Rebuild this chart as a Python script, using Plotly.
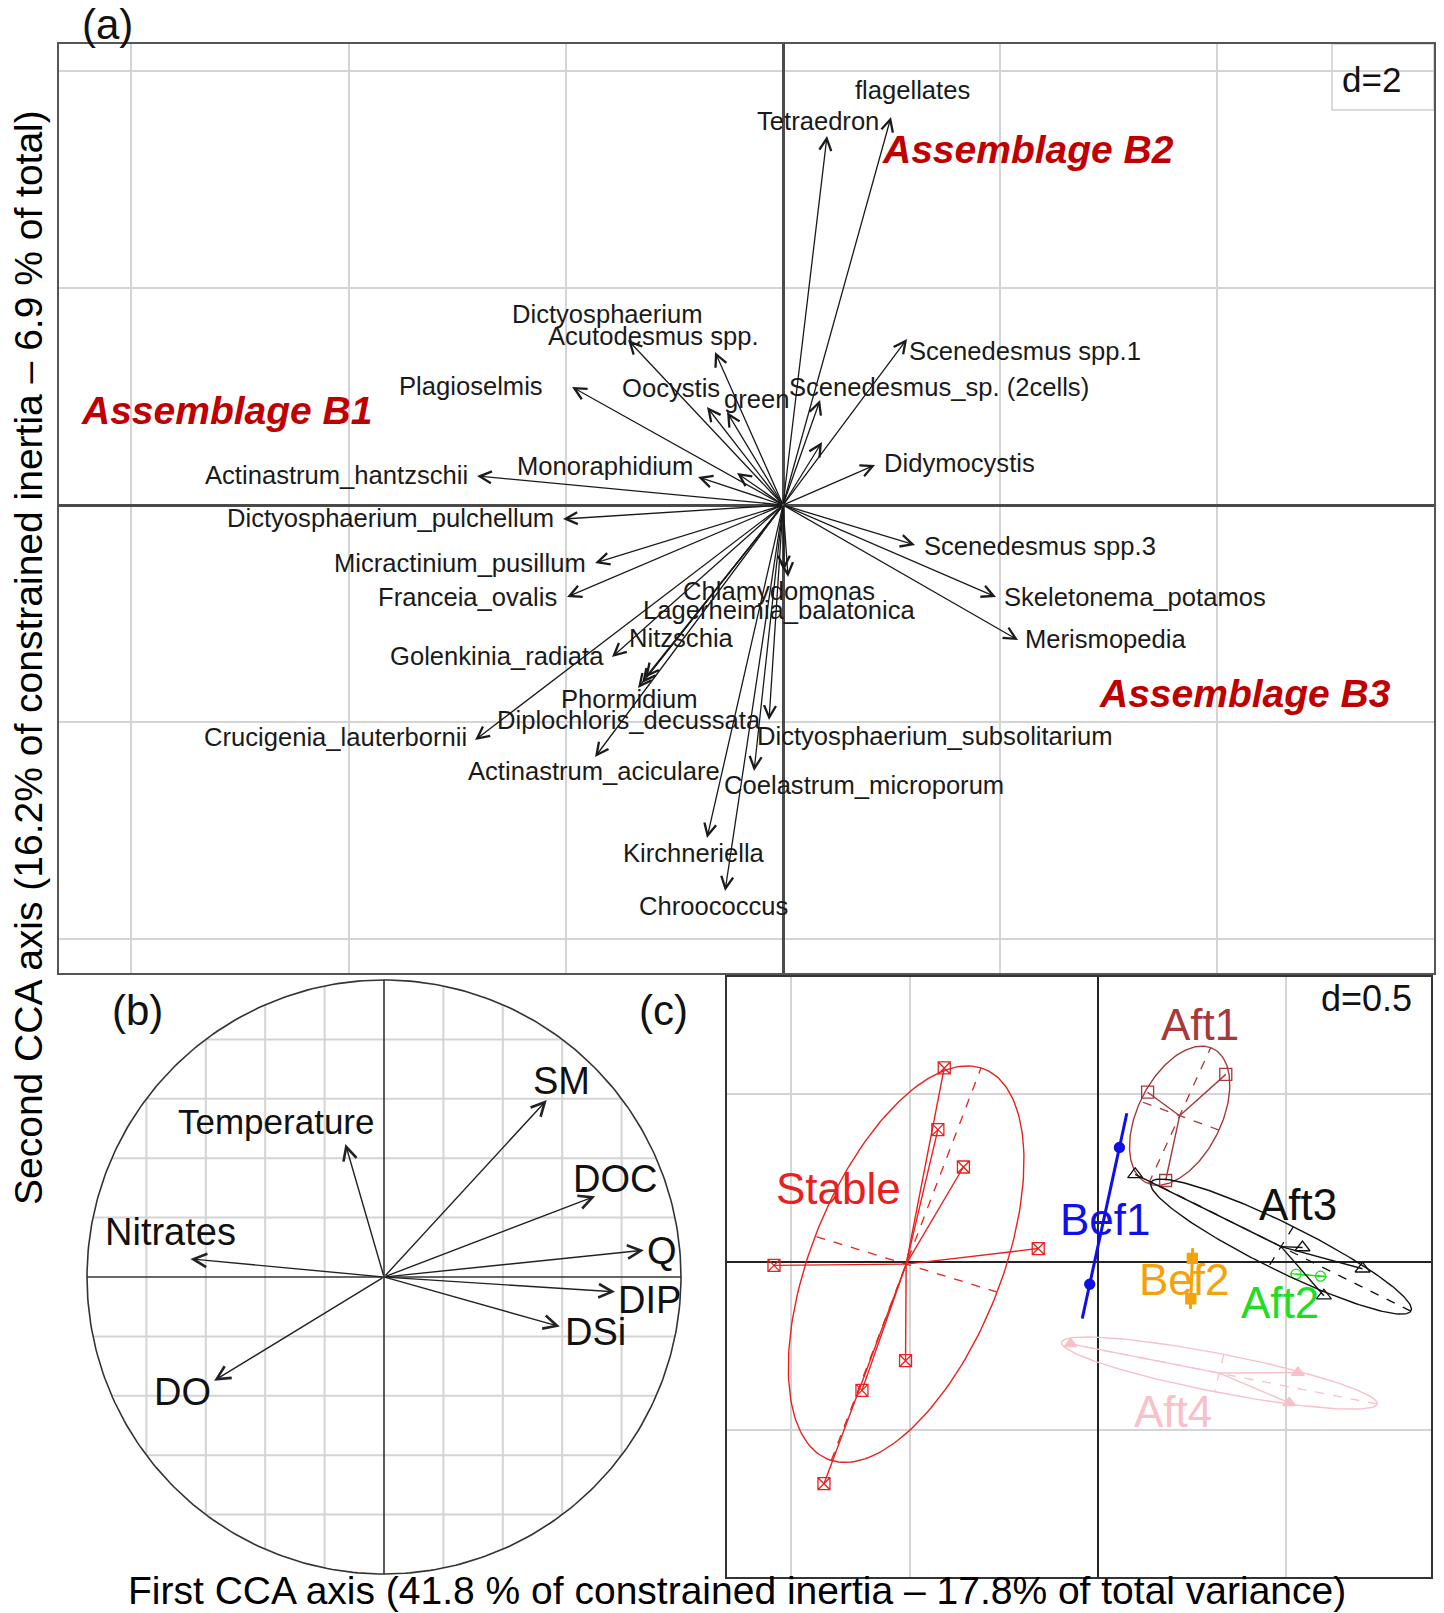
import numpy as np
import plotly.graph_objects as go

W, H = 1444, 1613
FONT = "Liberation Sans, Arial, Helvetica, sans-serif"

# ---------------- Panel (a): species scores (CCA) ----------------
species = ["flagellates", "Tetraedron", "Dictyosphaerium", "Acutodesmus spp.", "Plagioselmis",
           "Oocystis", "green", "Scenedesmus spp.1", "Scenedesmus_sp. (2cells)", "Didymocystis",
           "Monoraphidium", "Actinastrum_hantzschii", "Dictyosphaerium_pulchellum", "Scenedesmus spp.3",
           "Micractinium_pusillum", "Skeletonema_potamos", "Franceia_ovalis", "Chlamydomonas",
           "Lagerheimia_balatonica", "Merismopedia", "Nitzschia", "Golenkinia_radiata", "Phormidium",
           "Diplochloris_decussata", "Crucigenia_lauterbornii", "Dictyosphaerium_subsolitarium",
           "Actinastrum_aciculare", "Coelastrum_microporum", "Kirchneriella", "Chroococcus"]
sp_x = [0.994, 0.405, -1.427, -0.626, -1.943, -0.700, -0.516, 1.142, 0.341, 0.847,
        -0.783, -2.818, -2.026, 1.215, -1.731, 1.961, -1.989, 0.046, 0.010, 2.164,
        -1.298, -1.575, -1.270, -1.335, -2.836, -0.129, -1.731, -0.267, -0.700, -0.534]
sp_y = [3.573, 3.398, 1.519, 1.409, 1.087, 0.902, 0.856, 1.529, 0.967, 0.368,
        0.258, 0.267, -0.129, -0.368, -0.534, -0.847, -0.847, -0.663, -0.600, -1.243,
        -1.639, -1.400, -1.590, -1.685, -2.164, -1.980, -2.320, -2.449, -3.066, -3.554]
lab_x = [1.188, 0.322, -1.621, -1.197, -2.873, -1.031, -0.249, 2.228, 1.436, 1.621,
         -1.639, -4.116, -3.619, 2.366, -2.974, 3.241, -2.901, -0.037, -0.037, 2.974,
         -0.939, -2.634, -1.418, -1.418, -4.125, 1.400, -1.740, 0.746, -0.820, -0.645]
lab_y = [3.817, 3.536, 1.759, 1.556, 1.096, 1.077, 0.976, 1.418, 1.087, 0.387,
         0.359, 0.276, -0.120, -0.378, -0.534, -0.847, -0.847, -0.792, -0.967, -1.234,
         -1.225, -1.390, -1.786, -1.980, -2.136, -2.127, -2.449, -2.578, -3.204, -3.692]
# arrows whose labels are hidden under other labels
extra_x = [0.359, -0.424]
extra_y = [0.580, 0.295]

assemblages = ["Assemblage B1", "Assemblage B2", "Assemblage B3"]
asm_x = [-5.129, 2.256, 4.254]
asm_y = [0.866, 3.278, -1.731]

# ---------------- Panel (b): environmental variables (correlation circle) ----------------
env = ["SM", "Temperature", "DOC", "Q", "Nitrates", "DIP", "DSi", "DO"]
env_x = [0.548, -0.130, 0.711, 0.875, -0.652, 0.778, 0.592, -0.572]
env_y = [0.596, 0.448, 0.272, 0.090, 0.061, -0.050, -0.167, -0.349]
env_lx = [0.598, -0.362, 0.778, 0.935, -0.718, 0.895, 0.711, -0.678]
env_ly = [0.661, 0.523, 0.329, 0.088, 0.151, -0.079, -0.186, -0.386]
circle_grid = [-0.8, -0.6, -0.4, -0.2, 0.2, 0.4, 0.6, 0.8]

# ---------------- Panel (c): sampling dates by class ----------------
groups = ["Stable", "Bef1", "Bef2", "Aft1", "Aft2", "Aft3", "Aft4"]
grp_x = {
    "Stable": [-0.409, -0.426, -0.358, -0.159, -0.862, -0.512, -0.628, -0.729],
    "Bef1": [0.057, -0.022],
    "Bef2": [0.251, 0.247],
    "Aft1": [0.132, 0.340, 0.180],
    "Aft2": [0.527, 0.592],
    "Aft3": [0.099, 0.544, 0.704, 0.601],
    "Aft4": [-0.073, 0.532, 0.509],
}
grp_y = {
    "Stable": [0.576, 0.393, 0.282, 0.040, -0.010, -0.293, -0.381, -0.658],
    "Bef1": [0.340, -0.066],
    "Bef2": [0.011, -0.109],
    "Aft1": [0.504, 0.557, 0.242],
    "Aft2": [-0.036, -0.042],
    "Aft3": [0.260, 0.043, -0.020, -0.100],
    "Aft4": [-0.243, -0.328, -0.418],
}
grp_lab_x = [-0.691, 0.021, 0.230, 0.271, 0.485, 0.532, 0.200]
grp_lab_y = [0.218, 0.127, -0.052, 0.705, -0.121, 0.170, -0.445]

grp_color = {"Stable": "#e8211f", "Bef1": "#1010e8", "Bef2": "#f5a20a", "Aft1": "#a8383a",
             "Aft2": "#20dd20", "Aft3": "#111111", "Aft4": "#f8c0c8"}
grp_symbol = {"Stable": "square-x-open", "Bef1": "circle", "Bef2": "square", "Aft1": "square-open",
              "Aft2": "circle-open", "Aft3": "triangle-up-open", "Aft4": "triangle-up"}
grp_msize = {"Stable": 12, "Bef1": 10, "Bef2": 10, "Aft1": 12, "Aft2": 10, "Aft3": 13, "Aft4": 11}


# ---------------- layout helpers (pixel boxes -> paper domains) ----------------
def dom_x(l, r):
    return [l / W, r / W]


def dom_y(t, b):
    return [1 - b / H, 1 - t / H]


def paper_text(px, py, text, size, color="#111", **kw):
    return dict(x=px / W, y=1 - py / H, xref="paper", yref="paper", text=text, showarrow=False,
                xanchor="center", yanchor="middle", font=dict(family=FONT, size=size, color=color), **kw)


fig = go.Figure()
annotations = []
GRID = "#d4d4d4"
AXC = "#4a4a4a"

# ---- Panel (a) arrows and labels
for x, y in zip(sp_x + extra_x, sp_y + extra_y):
    annotations.append(dict(x=x, y=y, ax=0, ay=0, xref="x", yref="y", axref="x", ayref="y",
                            text="", showarrow=True, arrowhead=5, arrowsize=1.8, arrowwidth=1.3,
                            arrowcolor="#1a1a1a", standoff=0, startstandoff=0))
for name, x, y in zip(species, lab_x, lab_y):
    annotations.append(dict(x=x, y=y, xref="x", yref="y", text=name, showarrow=False,
                            xanchor="center", yanchor="middle",
                            font=dict(family=FONT, size=25.6, color="#1a1a1a")))
for name, x, y in zip(assemblages, asm_x, asm_y):
    annotations.append(dict(x=x, y=y, xref="x", yref="y", text="<b><i>%s</i></b>" % name,
                            showarrow=False, xanchor="center", yanchor="middle",
                            font=dict(family=FONT, size=39, color="#c00000")))

# ---- Panel (b)
for v in circle_grid:
    h = np.sqrt(1 - v * v)
    fig.add_trace(go.Scatter(x=[v, v], y=[-h, h], mode="lines", line=dict(color=GRID, width=2),
                             xaxis="x2", yaxis="y2", hoverinfo="skip", showlegend=False))
    fig.add_trace(go.Scatter(x=[-h, h], y=[v, v], mode="lines", line=dict(color=GRID, width=2),
                             xaxis="x2", yaxis="y2", hoverinfo="skip", showlegend=False))
fig.add_trace(go.Scatter(x=[-1, 1, None, 0, 0], y=[0, 0, None, -1, 1], mode="lines",
                         line=dict(color="#333333", width=1.6), xaxis="x2", yaxis="y2",
                         hoverinfo="skip", showlegend=False))
t = np.linspace(0, 2 * np.pi, 361)
fig.add_trace(go.Scatter(x=np.cos(t), y=np.sin(t), mode="lines", line=dict(color="#333333", width=1.6),
                         xaxis="x2", yaxis="y2", hoverinfo="skip", showlegend=False))
for x, y in zip(env_x, env_y):
    annotations.append(dict(x=x, y=y, ax=0, ay=0, xref="x2", yref="y2", axref="x2", ayref="y2",
                            text="", showarrow=True, arrowhead=5, arrowsize=1.9, arrowwidth=1.4,
                            arrowcolor="#222222", standoff=0, startstandoff=0))
for name, x, y in zip(env, env_lx, env_ly):
    annotations.append(dict(x=x, y=y, xref="x2", yref="y2", text=name, showarrow=False,
                            xanchor="center", yanchor="middle",
                            font=dict(family=FONT, size=35 if name == "Temperature" else 38,
                                      color="#111111")))


# ---- Panel (c): class ellipses, stars and points
def class_geometry(xs, ys, k=1.5, n=200):
    x = np.asarray(xs, float)
    y = np.asarray(ys, float)
    mx, my = x.mean(), y.mean()
    C = np.cov(np.vstack([x, y]), bias=True)
    vals, vecs = np.linalg.eigh(C)
    vals = np.clip(vals, 0, None)
    a = k * np.sqrt(vals[1]) * vecs[:, 1]
    b = k * np.sqrt(vals[0]) * vecs[:, 0]
    tt = np.linspace(0, 2 * np.pi, n)
    ex = mx + np.cos(tt) * a[0] + np.sin(tt) * b[0]
    ey = my + np.cos(tt) * a[1] + np.sin(tt) * b[1]
    return mx, my, a, b, ex, ey


for g in groups:
    col = grp_color[g]
    mx, my, a, b, ex, ey = class_geometry(grp_x[g], grp_y[g])
    fig.add_trace(go.Scatter(x=[mx - a[0], mx + a[0], None, mx - b[0], mx + b[0]],
                             y=[my - a[1], my + a[1], None, my - b[1], my + b[1]],
                             mode="lines", line=dict(color=col, width=1.3, dash="dash"),
                             xaxis="x3", yaxis="y3", hoverinfo="skip", showlegend=False))
    wid = 3 if g in ("Bef1", "Bef2") else 1.4
    fig.add_trace(go.Scatter(x=ex, y=ey, mode="lines", line=dict(color=col, width=wid),
                             xaxis="x3", yaxis="y3", hoverinfo="skip", showlegend=False))
    sx, sy = [], []
    for px, py in zip(grp_x[g], grp_y[g]):
        sx += [mx, px, None]
        sy += [my, py, None]
    fig.add_trace(go.Scatter(x=sx, y=sy, mode="lines", line=dict(color=col, width=1.4),
                             xaxis="x3", yaxis="y3", hoverinfo="skip", showlegend=False))
    fig.add_trace(go.Scatter(x=grp_x[g], y=grp_y[g], mode="markers",
                             marker=dict(symbol=grp_symbol[g], size=grp_msize[g], color=col,
                                         line=dict(color=col, width=1.3)),
                             xaxis="x3", yaxis="y3", hoverinfo="skip", showlegend=False))
for g, x, y in zip(groups, grp_lab_x, grp_lab_y):
    annotations.append(dict(x=x, y=y, xref="x3", yref="y3", text=g, showarrow=False,
                            xanchor="center", yanchor="middle",
                            font=dict(family=FONT, size=44, color=grp_color[g])))

# ---- panel tags, scale labels, axis titles
annotations += [
    paper_text(107, 25, "(a)", 42),
    paper_text(137, 1010, "(b)", 42),
    paper_text(663, 1010, "(c)", 42),
    paper_text(1371, 80, "d=2", 35),
    paper_text(1366, 998, "d=0.5", 36),
    paper_text(737, 1590, "First CCA axis (41.8 % of constrained inertia \u2013 17.8% of total variance)", 39,
               color="#000"),
    paper_text(28, 658, "Second CCA axis (16.2% of constrained inertia \u2013 6.9 % of total)", 39,
               color="#000", textangle=-90),
]

shapes = [
    dict(type="rect", xref="paper", yref="paper", x0=1332 / W, x1=1434 / W, y0=1 - 110 / H, y1=1 - 44 / H,
         fillcolor="white", line=dict(color="#cfcfcf", width=1.5), layer="between"),
]

axis_common = dict(showticklabels=False, ticks="", fixedrange=True)
fig.update_layout(
    width=W, height=H, margin=dict(l=0, r=0, t=0, b=0),
    paper_bgcolor="white", plot_bgcolor="rgba(0,0,0,0)", showlegend=False,
    xaxis=dict(domain=dom_x(59, 1434), range=[-6.667, 5.994], tick0=0, dtick=2,
               showgrid=True, gridcolor=GRID, gridwidth=2, zeroline=True, zerolinecolor=AXC,
               zerolinewidth=2.5, showline=True, mirror=True, linecolor="#555", linewidth=2,
               **axis_common),
    yaxis=dict(domain=dom_y(44, 973), range=[-4.309, 4.245], tick0=0, dtick=2,
               showgrid=True, gridcolor=GRID, gridwidth=2, zeroline=True, zerolinecolor=AXC,
               zerolinewidth=2.5, showline=True, mirror=True, linecolor="#555", linewidth=2,
               **axis_common),
    xaxis2=dict(domain=dom_x(74, 694), range=[-1.0438, 1.0438], showgrid=False, zeroline=False,
                showline=False, anchor="y2", **axis_common),
    yaxis2=dict(domain=dom_y(967, 1587), range=[-1.0438, 1.0438], showgrid=False, zeroline=False,
                showline=False, anchor="x2", **axis_common),
    xaxis3=dict(domain=dom_x(727, 1431), range=[-0.987, 0.886], tickvals=[-0.816, -0.5, 0.5],
                showgrid=True, gridcolor=GRID, gridwidth=1.5, zeroline=True, zerolinecolor="#222",
                zerolinewidth=1.6, showline=True, mirror=True, linecolor="#333", linewidth=2,
                anchor="y3", **axis_common),
    yaxis3=dict(domain=dom_y(977, 1577), range=[-0.935, 0.846], tickvals=[-0.5, 0.5],
                showgrid=True, gridcolor=GRID, gridwidth=1.5, zeroline=True, zerolinecolor="#222",
                zerolinewidth=1.6, showline=True, mirror=True, linecolor="#333", linewidth=2,
                anchor="x3", **axis_common),
    annotations=annotations,
    shapes=shapes,
)

fig.write_html("out.html", config={"displayModeBar": False},
               post_script="document.body.style.margin='0';document.body.style.overflow='hidden';")
